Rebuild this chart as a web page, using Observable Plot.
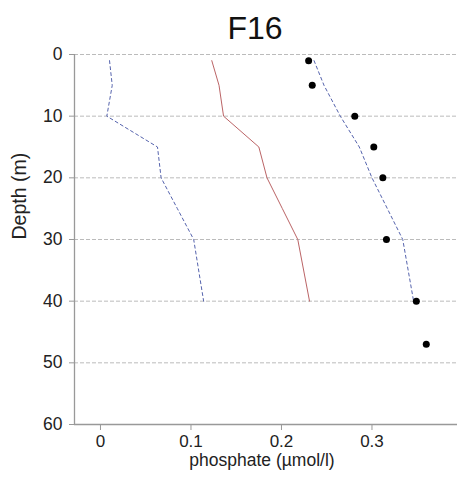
<!DOCTYPE html>
<html>
<head>
<meta charset="utf-8">
<script src="https://cdn.jsdelivr.net/npm/d3@7"></script>
<script src="https://cdn.jsdelivr.net/npm/@observablehq/plot@0.6"></script>
<style>
  body { margin: 0; background: #fff; font-family: "Liberation Sans", Arial, sans-serif; }
  #title { height: 40px; width: 457px; position: relative; }
  #title span { position: absolute; left: 0; width: 510px; text-align: center; top: 12px; font-size: 32px; line-height: 32px; color: #111; }
  #chart svg { display: block; }
</style>
</head>
<body>
<div id="title"><span>F16</span></div>
<div id="chart"></div>
<script>
const title = "F16";
const xLabel = "phosphate (µmol/l)";
const yLabel = "Depth (m)";
const xTicks = [0, 0.1, 0.2, 0.3];
const yTicks = [0, 10, 20, 30, 40, 50, 60];

// observed samples (black dots)
const obsDepth = [1, 5, 10, 15, 20, 30, 40, 47];
const obsPhos  = [0.230, 0.234, 0.281, 0.302, 0.312, 0.316, 0.349, 0.360];

// profile lines
const profDepth = [1, 5, 10, 15, 20, 25, 30, 40];
const minPhos   = [0.010, 0.013, 0.007, 0.063, 0.067, 0.085, 0.103, 0.114];
const meanPhos  = [0.123, 0.131, 0.136, 0.175, 0.184, 0.201, 0.218, 0.231];
const maxPhos   = [0.236, 0.247, 0.265, 0.286, 0.300, 0.317, 0.334, 0.346];

const obs = obsDepth.map((d, i) => ({depth: d, phos: obsPhos[i]}));
const prof = profDepth.map((d, i) => ({depth: d, min: minPhos[i], mean: meanPhos[i], max: maxPhos[i]}));

const xDomain = [-0.0287, 0.3945];
const axisColor = "#999";

const chart = Plot.plot({
  width: 457,
  height: 437,
  marginTop: 14,
  marginBottom: 53,
  marginLeft: 74,
  marginRight: 0,
  style: {fontFamily: "'Liberation Sans', Arial, sans-serif", background: "#fff", color: "#222"},
  x: {domain: xDomain, axis: null},
  y: {domain: [0, 60], reverse: true, axis: null},
  marks: [
    Plot.gridY(yTicks.slice(0, -1), {stroke: "#bbb", strokeOpacity: 1, strokeDasharray: "4,2"}),
    Plot.ruleY([60], {stroke: axisColor, strokeWidth: 1.3}),
    Plot.ruleX([xDomain[0]], {y1: 0, y2: 60, stroke: axisColor, strokeWidth: 1.3}),
    Plot.axisY(yTicks, {tickSize: 5, tickPadding: 7, stroke: axisColor, fontSize: 17.5, label: null, fill: "#222"}),
    Plot.axisX(xTicks, {tickSize: 6, tickPadding: 4, stroke: axisColor, fontSize: 17, label: null, fill: "#222", tickFormat: d => String(d)}),
    Plot.line(prof, {x: "min", y: "depth", stroke: "#5563ad", strokeWidth: 1, strokeDasharray: "3,3"}),
    Plot.line(prof, {x: "max", y: "depth", stroke: "#5563ad", strokeWidth: 1, strokeDasharray: "3,3"}),
    Plot.line(prof, {x: "mean", y: "depth", stroke: "#bb6466", strokeWidth: 1}),
    Plot.dot(obs, {x: "phos", y: "depth", r: 3.5, fill: "#000", stroke: null}),
    Plot.text([xLabel], {frameAnchor: "bottom", dy: 41, dx: -4, fontSize: 17.5, fill: "#222"}),
    Plot.text([yLabel], {frameAnchor: "left", dx: -55, rotate: -90, fontSize: 19.5, fill: "#222"})
  ]
});
document.getElementById("chart").appendChild(chart);
</script>
</body>
</html>
